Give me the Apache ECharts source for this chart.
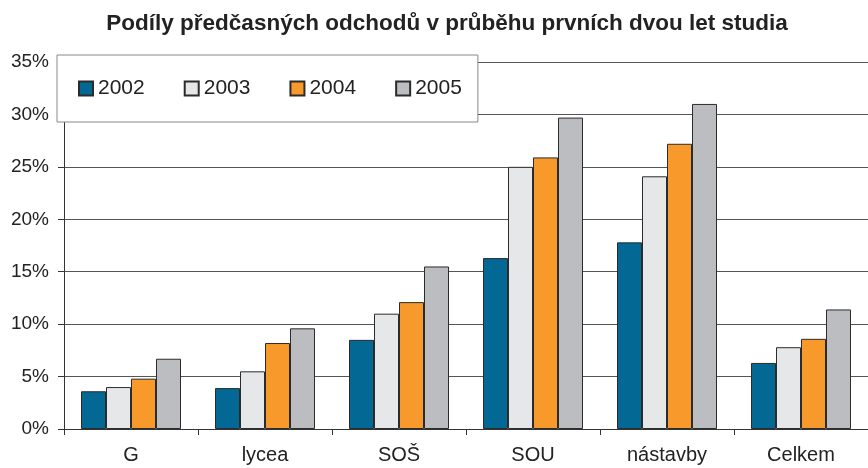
<!DOCTYPE html>
<html>
<head>
<meta charset="utf-8">
<script src="https://cdn.jsdelivr.net/npm/echarts@6/dist/echarts.min.js"></script>
<style>
  html, body { margin: 0; padding: 0; background: #fff; }
  #main { width: 868px; height: 468px; }
</style>
</head>
<body>
<div id="main"></div>
<script>
// categories and values (percent)
var categories = ['G', 'lycea', 'SOŠ', 'SOU', 'nástavby', 'Celkem'];
var years = ['2002', '2003', '2004', '2005'];
var v2002 = [3.6, 3.9, 8.5, 16.3, 17.8, 6.3];
var v2003 = [4.0, 5.5, 11.0, 25.0, 24.1, 7.8];
var v2004 = [4.8, 8.2, 12.1, 25.9, 27.2, 8.6];
var v2005 = [6.7, 9.6, 15.5, 29.7, 31.0, 11.4];
var colors = ['#036894', '#e6e7e9', '#f7992b', '#bcbdc1'];

var font = 'Liberation Sans, Arial, sans-serif';
var myChart = echarts.init(document.getElementById('main'));

var seriesData = [v2002, v2003, v2004, v2005];
var series = years.map(function (y, i) {
    return {
        name: y,
        type: 'bar',
        barWidth: 25,
        barGap: '0%',
        itemStyle: {
            color: colors[i],
            borderColor: '#2b2b2b',
            borderWidth: 1
        },
        data: seriesData[i]
    };
});

var option = {
    animation: false,
    backgroundColor: '#fff',
    textStyle: { fontFamily: font, color: '#222' },
    title: {
        text: 'Podíly předčasných odchodů v průběhu prvních dvou let studia',
        left: 442,
        textAlign: 'center',
        top: 7,
        textStyle: { fontFamily: font, fontSize: 22.5, fontWeight: 'bold', color: '#222' }
    },
    legend: {
        left: 57,
        top: 55,
        orient: 'horizontal',
        padding: [23, 16, 23, 21],
        itemWidth: 14,
        itemHeight: 14,
        itemGap: 39,
        backgroundColor: '#fff',
        borderColor: '#888',
        borderWidth: 1,
        icon: 'rect',
        textStyle: { fontFamily: font, fontSize: 21, color: '#222' },
        data: years
    },
    grid: { left: 64, top: 62, width: 812, bottom: 39 },
    xAxis: {
        type: 'category',
        data: categories,
        axisLine: { lineStyle: { color: '#333', width: 1 } },
        axisTick: { show: true, length: 6, inside: false, lineStyle: { color: '#333' } },
        axisLabel: { fontFamily: font, fontSize: 20, color: '#222', margin: 16 }
    },
    yAxis: {
        type: 'value',
        min: 0,
        max: 35,
        interval: 5,
        axisLine: { show: true, lineStyle: { color: '#333', width: 1 } },
        axisTick: { show: true, length: 6, lineStyle: { color: '#333' } },
        axisLabel: { fontFamily: font, fontSize: 19, color: '#222', margin: 15, formatter: '{value}%' },
        splitLine: { lineStyle: { color: '#555', width: 1 } }
    },
    series: series
};

myChart.setOption(option);
</script>
</body>
</html>
